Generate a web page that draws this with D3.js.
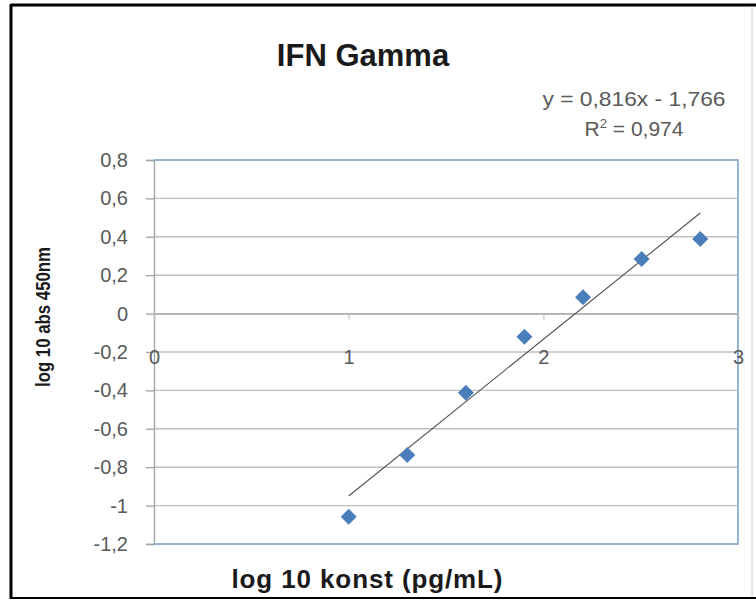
<!DOCTYPE html>
<html>
<head>
<meta charset="utf-8">
<script src="https://cdn.jsdelivr.net/npm/d3@7"></script>
<style>
body { margin: 0; background: #fff; }
</style>
</head>
<body>
<div id="chart"></div>
<script>
var width = 756;
var height = 600;

// log10 of the standard concentrations and the measured log10 absorbance
var logConc = [1, 1.301, 1.602, 1.903, 2.204, 2.505, 2.806];
var logAbs = [-1.058, -0.736, -0.412, -0.12, 0.085, 0.284, 0.389];

var xTicks = [0, 1, 2, 3];
var yTicks = [0.8, 0.6, 0.4, 0.2, 0, -0.2, -0.4, -0.6, -0.8, -1, -1.2];

// linear trendline as given in the chart
var slope = 0.816;
var intercept = -1.766;
var rSquared = 0.974;

var chartTitle = "IFN Gamma";
var xTitle = "log 10 konst (pg/mL)";
var yTitle = "log 10 abs 450nm";

var locale = d3.formatLocale({decimal: ",", thousands: ".", grouping: [3], currency: ["", ""], minus: "-"});
var fmt = locale.format("");

var svg = d3.select("#chart").append("svg")
    .attr("width", width)
    .attr("height", height);

var x = d3.scaleLinear().domain([0, 3]).range([154, 738]);
var y = d3.scaleLinear().domain([-1.2, 0.8]).range([544, 160]);

// outer frame
svg.append("line").attr("x1", 11).attr("y1", 5).attr("x2", 756).attr("y2", 5)
    .style("stroke", "#000").style("stroke-width", 3);
svg.append("line").attr("x1", 11).attr("y1", 4).attr("x2", 11).attr("y2", 599)
    .style("stroke", "#000").style("stroke-width", 3);
svg.append("line").attr("x1", 10).attr("y1", 598).attr("x2", 756).attr("y2", 598)
    .style("stroke", "#000").style("stroke-width", 2);
svg.append("line").attr("x1", 752).attr("y1", 6).attr("x2", 752).attr("y2", 597)
    .style("stroke", "#d0d0d0").style("stroke-width", 1);

// horizontal gridlines
svg.append("g").selectAll("line")
    .data(yTicks)
    .enter().append("line")
    .attr("x1", x(0))
    .attr("x2", x(3))
    .attr("y1", function(d) { return y(d); })
    .attr("y2", function(d) { return y(d); })
    .style("stroke", "#bfbfbf")
    .style("stroke-width", 1.4);

// plot area border (top, right, bottom)
svg.append("path")
    .attr("d", "M" + x(0) + "," + y(0.8) + "H" + x(3) + "V" + y(-1.2) + "H" + x(0))
    .style("fill", "none")
    .style("stroke", "#95b3d7")
    .style("stroke-width", 2);

// y axis
var yAxis = svg.append("g")
    .attr("transform", "translate(" + x(0) + ",0)")
    .call(d3.axisLeft(y).tickValues(yTicks).tickSize(8).tickPadding(18).tickFormat(fmt));
yAxis.select(".domain").style("stroke", "#a6a6a6").style("stroke-width", 1.4);
yAxis.selectAll(".tick line").style("stroke", "#a6a6a6").style("stroke-width", 1.4);
yAxis.selectAll("text")
    .style("font-family", "'Liberation Sans', Arial, sans-serif")
    .style("font-size", "20px")
    .style("fill", "#595959");

// x axis crossing at y = 0
var xAxis = svg.append("g")
    .attr("transform", "translate(0," + y(0) + ")")
    .call(d3.axisBottom(x).tickValues(xTicks).tickSize(6).tickPadding(30).tickFormat(fmt));
xAxis.select(".domain").style("stroke", "#a6a6a6").style("stroke-width", 1.4);
xAxis.selectAll(".tick line").style("stroke", "#c8c8c8").style("stroke-width", 1.4);
xAxis.selectAll("text")
    .style("font-family", "'Liberation Sans', Arial, sans-serif")
    .style("font-size", "20px")
    .style("fill", "#595959");

// trendline
svg.append("line")
    .attr("x1", x(d3.min(logConc)))
    .attr("y1", y(slope * d3.min(logConc) + intercept))
    .attr("x2", x(d3.max(logConc)))
    .attr("y2", y(slope * d3.max(logConc) + intercept))
    .style("stroke", "#505050")
    .style("stroke-width", 1.1);

// data points (diamonds)
var points = logConc.map(function(v, i) { return {x: v, y: logAbs[i]}; });
svg.append("g").selectAll("path")
    .data(points)
    .enter().append("path")
    .attr("d", d3.symbol().type(d3.symbolSquare).size(128))
    .attr("transform", function(d) { return "translate(" + x(d.x) + "," + y(d.y) + ") rotate(45)"; })
    .style("fill", "#4a7ebb");

// titles
svg.append("text")
    .attr("x", 363)
    .attr("y", 66)
    .attr("text-anchor", "middle")
    .style("font-family", "'Liberation Sans', Arial, sans-serif")
    .style("font-weight", "bold")
    .style("font-size", "31px")
    .style("fill", "#1a1a1a")
    .text(chartTitle);

svg.append("text")
    .attr("x", 367)
    .attr("y", 588)
    .attr("text-anchor", "middle")
    .attr("textLength", 271)
    .attr("lengthAdjust", "spacing")
    .style("font-family", "'Liberation Sans', Arial, sans-serif")
    .style("font-weight", "bold")
    .style("font-size", "26px")
    .style("fill", "#1a1a1a")
    .text(xTitle);

svg.append("text")
    .attr("transform", "translate(50,317) rotate(-90)")
    .attr("text-anchor", "middle")
    .attr("textLength", 140)
    .attr("lengthAdjust", "spacingAndGlyphs")
    .style("font-family", "'Liberation Sans Narrow', 'Liberation Sans', sans-serif")
    .style("font-weight", "bold")
    .style("font-size", "20px")
    .style("fill", "#1a1a1a")
    .text(yTitle);

// trendline equation and R squared
svg.append("text")
    .attr("x", 634)
    .attr("y", 106)
    .attr("text-anchor", "middle")
    .attr("textLength", 183)
    .attr("lengthAdjust", "spacingAndGlyphs")
    .style("font-family", "'Liberation Sans', Arial, sans-serif")
    .style("font-size", "21px")
    .style("fill", "#595959")
    .text("y = " + fmt(slope) + "x - " + fmt(-intercept));

var r2 = svg.append("text")
    .attr("x", 634)
    .attr("y", 136)
    .attr("text-anchor", "middle")
    .style("font-family", "'Liberation Sans', Arial, sans-serif")
    .style("font-size", "21px")
    .style("fill", "#595959");
r2.append("tspan").text("R");
r2.append("tspan").attr("dy", -8).style("font-size", "13px").text("2");
r2.append("tspan").attr("dy", 8).text(" = " + fmt(rSquared));
</script>
</body>
</html>
